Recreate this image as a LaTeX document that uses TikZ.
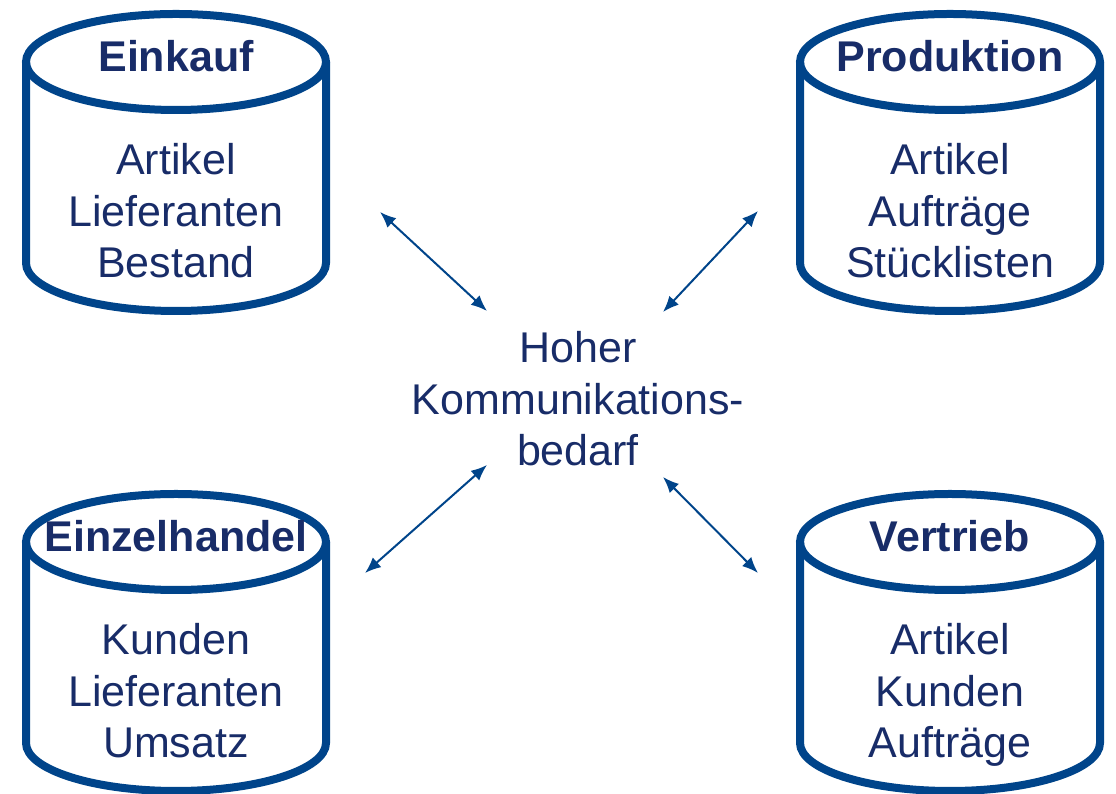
\documentclass[tikz,border=0pt]{standalone}
\usepackage{fontspec}
\setmainfont{Liberation Sans}
\usetikzlibrary{arrows.meta}
\definecolor{drumblue}{RGB}{0,68,138}
\definecolor{inkblue}{RGB}{24,44,104}
% database drum: centre x, y of top ellipse centre, y of bottom ellipse centre
\newcommand\drumshape[3]{%
  \draw[drum] (#1,#2) ellipse [x radius=150,y radius=48];
  \draw[drum] (#1-150,#2) -- (#1-150,#3)
    arc[start angle=180,end angle=360,x radius=150,y radius=48] -- (#1+150,#2);
}
\begin{document}
\begin{tikzpicture}[x=1pt,y=1pt,
  drum/.style={draw=drumblue,line width=8pt},
  title/.style={anchor=base,inner sep=0pt,text=inkblue,font=\fontsize{43}{51}\selectfont\bfseries},
  item/.style={anchor=base,inner sep=0pt,text=inkblue,font=\fontsize{43}{51}\selectfont},
  link/.style={draw=drumblue,line width=2pt,
    {Latex[length=16pt,width=13pt]}-{Latex[length=16pt,width=13pt]}}]
\useasboundingbox (0,0) rectangle (1116,794);

% drums
\drumshape{176}{732}{531}
\drumshape{950}{732}{531}
\drumshape{176}{252}{51}
\drumshape{950}{252}{51}

% Einkauf
\node[title] (ek) at (176,722) {Einkauf};
\node[item] (ek1) at (176,619) {Artikel};
\node[item] (ek2) at (176,567) {Lieferanten};
\node[item] (ek3) at (176,516) {Bestand};

% Produktion
\node[title] (pr) at (950,722) {Produktion};
\node[item] (pr1) at (950,619) {Artikel};
\node[item] (pr2) at (950,567) {Aufträge};
\node[item] (pr3) at (950,516) {Stücklisten};

% Einzelhandel
\node[title] (eh) at (176,242) {Einzelhandel};
\node[item] (eh1) at (176,139) {Kunden};
\node[item] (eh2) at (176,87) {Lieferanten};
\node[item] (eh3) at (176,36) {Umsatz};

% Vertrieb
\node[title] (vt) at (950,242) {Vertrieb};
\node[item] (vt1) at (950,139) {Artikel};
\node[item] (vt2) at (950,87) {Kunden};
\node[item] (vt3) at (950,36) {Aufträge};

% hub text
\node[item] (hub1) at (578,431) {Hoher};
\node[item] (hub2) at (578,379) {Kommunikations-};
\node[item] (hub3) at (578,328) {bedarf};

% arrow end points
\coordinate (ekA) at (380,582);
\coordinate (ekB) at (487,483);
\coordinate (prA) at (758,583);
\coordinate (prB) at (663,482);
\coordinate (ehA) at (365,221);
\coordinate (ehB) at (487,329);
\coordinate (vtA) at (758,221);
\coordinate (vtB) at (663,317);

\draw[link] (ekA) -- (ekB);
\draw[link] (prA) -- (prB);
\draw[link] (ehA) -- (ehB);
\draw[link] (vtA) -- (vtB);
\end{tikzpicture}
\end{document}
